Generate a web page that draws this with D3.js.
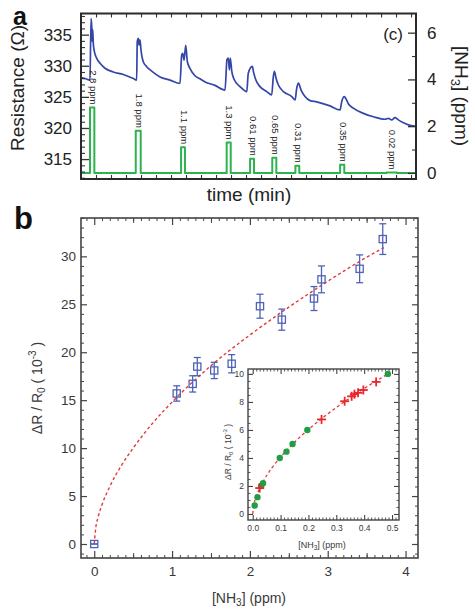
<!DOCTYPE html>
<html><head><meta charset="utf-8">
<script src="https://cdn.jsdelivr.net/npm/d3@7"></script>
<style>
body{margin:0;background:#fff}
svg{display:block}
text{font-family:"Liberation Sans",Arial,Helvetica,sans-serif}
</style>
</head><body>
<svg id="c" width="475" height="613"></svg>
<script>
// ---------- Panel a data ----------
const resTime  = [0,2.7,6.0,6.7,7.1,7.5,7.8,8.2,8.9,10.5,12.7,16.0,21.5,28.2,34.9,37.1,37.5,38.2,38.7,39.3,40.0,41.5,43.8,47.1,52.7,59.3,66.0,
  67.1,67.8,68.7,69.8,70.9,72.7,76.0,79.3,82.7,89.3,96.0,97.3,98.2,98.9,99.5,100.5,102.2,106.0,110.5,
  111.5,114.2,114.9,116.5,119.3,123.8,127.1,128.2,128.9,130.0,131.5,134.9,140.5,142.7,
  143.8,144.9,146.7,149.3,152.7,157.1,166.0,172.7,173.8,175.5,176.7,178.2,181.5,188.2,194.9,202.7,204.9,207.1,209.3,211.5,214.9,218.2,222.7];
const resValue = [328.1,327.95,327.7,337.6,336.6,333.9,335.8,333.6,332.3,331.2,330.4,329.6,329.0,328.6,327.95,327.7,333.9,334.4,333.3,334.15,332.5,330.65,329.85,329.15,328.2,327.7,327.15,
  331.7,332.0,330.9,333.3,330.65,329.55,328.4,327.9,327.4,326.85,326.1,331.0,331.25,329.35,331.25,329.1,327.75,326.65,325.85,
  328.8,329.9,329.1,327.75,326.65,325.85,325.3,328.25,329.1,328.0,326.95,325.85,325.05,324.5,
  326.4,327.2,326.1,325.05,324.4,324.2,323.55,322.9,324.25,325.05,324.65,323.9,323.2,322.35,321.8,321.4,321.55,321.3,321.65,321.3,320.85,320.5,320.3];
const pulseStart = [6.0,36.5,66.7,97.1,112.7,127.5,142.9,172.7,203.8];
const pulseEnd   = [8.9,39.8,69.3,99.8,115.3,130.2,145.5,175.5,210.5];
const pulseConc  = [2.8,1.8,1.1,1.3,0.61,0.65,0.31,0.35,0.02];
const pulseLabel = ["2.8 ppm","1.8 ppm","1.1 ppm","1.3 ppm","0.61 ppm","0.65 ppm","0.31 ppm","0.35 ppm","0.02 ppm"];
const resTicks = [315,320,325,330,335];
const ppmTicks = [0,2,4,6];

// ---------- Panel b data ----------
const concX  = [0,1.06,1.265,1.324,1.542,1.766,2.13,2.41,2.824,2.92,3.41,3.707];
const dRR0   = [0,15.7,16.7,18.5,18.1,18.8,24.8,23.4,25.6,27.6,28.7,31.8];
const dRR0Err= [0,0.8,0.85,0.95,0.85,0.95,1.25,1.1,1.25,1.4,1.45,1.6];
const fitX = [0,0.02,0.05,0.1,0.2,0.35,0.5,0.75,1.0,1.5,2.0,2.5,3.0,3.5,3.72];
const fitY = [0,1.7,2.8,4.1,6.0,8.2,10.0,12.6,14.8,18.6,21.8,24.7,27.4,29.9,30.9];
const bTicksX = [0,1,2,3,4];
const bTicksY = [0,5,10,15,20,25,30];

// ---------- Inset data ----------
const insetDotX = [0.007,0.017,0.03,0.037,0.097,0.121,0.143,0.196,0.485];
const insetDotY = [0.6,1.2,2.0,2.2,4.0,4.45,5.0,6.0,10.0];
const insetCrossX = [0.025,0.247,0.33,0.355,0.365,0.378,0.397,0.443];
const insetCrossY = [1.85,6.75,8.05,8.4,8.55,8.65,8.85,9.43];
const insetFitX = [0,0.005,0.01,0.02,0.04,0.07,0.1,0.15,0.2,0.25,0.3,0.35,0.4,0.45,0.49];
const insetFitY = [0,0.74,1.09,1.62,2.41,3.32,4.06,5.12,6.03,6.85,7.6,8.3,8.96,9.58,10.05];
const insetTicksX = [0,0.1,0.2,0.3,0.4,0.5];
const insetTicksY = [0,2,4,6,8,10];

// ---------- drawing ----------
const svg = d3.select("#c");
const axisCol = "#333";
const blue = "#3446a8", green = "#2db34e", sqBlue = "#4f62b6", red = "#e23a3a";

function styleAxis(a, sw, col, fs, tcol){
  a.select(".domain").remove();
  a.selectAll(".tick line").attr("stroke", col).attr("stroke-width", sw);
  a.selectAll(".tick text").attr("fill", tcol||"#222").style("font-size", fs+"px").attr("font-family","Liberation Sans, Arial, sans-serif");
  return a;
}
function put(axis, x, y){ return svg.append("g").attr("transform",`translate(${x},${y})`).call(axis); }

// ===== Panel a =====
const A = {l:81, r:416, t:13.5, b:179};
const xA = d3.scaleLinear().domain([0,223.3]).range([A.l, A.r]);
const yR = d3.scaleLinear().domain([311.8,338.4]).range([A.b, A.t]);
const yP = d3.scaleLinear().domain([-0.26,6.82]).range([A.b, A.t]);

svg.append("clipPath").attr("id","clipA").append("rect").attr("x",A.l).attr("y",A.t).attr("width",A.r-A.l).attr("height",A.b-A.t);

// green concentration steps
const stepPts = [[0,0]];
pulseStart.forEach((s,i)=>{ stepPts.push([s,0],[s,pulseConc[i]],[pulseEnd[i],pulseConc[i]],[pulseEnd[i],0]); });
stepPts.push([223.3,0]);
svg.append("path").attr("clip-path","url(#clipA)")
  .attr("d", d3.line().x(d=>xA(d[0])).y(d=>yP(d[1]))(stepPts))
  .attr("fill","none").attr("stroke",green).attr("stroke-width",2).attr("stroke-linejoin","round");

// resistance trace
svg.append("path").attr("clip-path","url(#clipA)")
  .attr("d", d3.line().x((d,i)=>xA(resTime[i])).y((d,i)=>yR(resValue[i])).curve(d3.curveMonotoneX)(resTime))
  .attr("fill","none").attr("stroke",blue).attr("stroke-width",1.7).attr("stroke-linejoin","round");

// pulse labels
pulseLabel.forEach((lab,i)=>{
  const cx = xA((pulseStart[i]+pulseEnd[i])/2)+1;
  const cy = yP(pulseConc[i]) - 3;
  svg.append("text").attr("transform",`translate(${cx},${cy}) rotate(90)`)
    .attr("text-anchor","end").attr("dy","0.35em").style("font-size","9.5px").attr("fill","#222").text(lab);
});

// axes panel a
styleAxis(put(d3.axisLeft(yR).tickValues(resTicks).tickSize(-8).tickSizeOuter(0).tickPadding(9), A.l, 0), 1.3, axisCol, 17);
styleAxis(put(d3.axisLeft(yR).tickValues(d3.range(312,339,1).filter(v=>v%5)).tickSize(-4).tickSizeOuter(0).tickFormat(""), A.l, 0), 1.1, axisCol, 1);
styleAxis(put(d3.axisRight(yP).tickValues(ppmTicks).tickSize(-8).tickSizeOuter(0).tickPadding(11), A.r, 0), 1.3, axisCol, 17);
styleAxis(put(d3.axisRight(yP).tickValues([1,3,5]).tickSize(-4).tickSizeOuter(0).tickFormat(""), A.r, 0), 1.1, axisCol, 1);
styleAxis(put(d3.axisBottom(xA).tickValues(d3.range(10,221,10)).tickSize(-4).tickSizeOuter(0).tickFormat(""), 0, A.b), 1.1, axisCol, 1);
styleAxis(put(d3.axisTop(xA).tickValues(d3.range(10,221,10)).tickSize(-4).tickSizeOuter(0).tickFormat(""), 0, A.t), 1.1, axisCol, 1);
svg.append("rect").attr("x",A.l).attr("y",A.t).attr("width",A.r-A.l).attr("height",A.b-A.t)
  .attr("fill","none").attr("stroke","#2a2a2a").attr("stroke-width",2);

svg.append("text").attr("x",403).attr("y",39.5).attr("text-anchor","end").style("font-size","17px").attr("fill","#222").text("(c)");
svg.append("text").attr("x",249).attr("y",201).attr("text-anchor","middle").style("font-size","19px").attr("fill","#222").text("time (min)");
svg.append("text").attr("transform","translate(24,88) rotate(-90)").attr("text-anchor","middle").style("font-size","19px").attr("fill","#222").text("Resistance (Ω)");
const nh = svg.append("text").attr("transform","translate(455,96) rotate(90)").attr("text-anchor","middle").style("font-size","19px").attr("fill","#222");
nh.append("tspan").text("[NH");
nh.append("tspan").attr("dy",4).style("font-size","13px").text("3");
nh.append("tspan").attr("dy",-4).text("] (ppm)");
svg.append("text").attr("x",13).attr("y",25).style("font-size","25px").style("font-weight","bold").attr("fill","#111").text("a");

// ===== Panel b =====
const B = {l:81, r:418, t:218, b:558};
const xB = d3.scaleLinear().domain([-0.17,4.16]).range([B.l,B.r]);
const yB = d3.scaleLinear().domain([-1.46,34]).range([B.b,B.t]);
const tcolB = "#3a3a3a";
const minorBX = d3.range(-1,42,1).map(v=>v/10).filter(v=>v>=-0.15&&Math.abs(v-Math.round(v))>1e-6);

styleAxis(put(d3.axisLeft(yB).tickValues(bTicksY).tickSize(-6).tickSizeOuter(0).tickPadding(5).tickFormat(d3.format("d")), B.l, 0), 1.2, "#444", 13.5, tcolB);
styleAxis(put(d3.axisLeft(yB).tickValues(d3.range(-1,35,1).filter(v=>v%5)).tickSize(-3).tickSizeOuter(0).tickFormat(""), B.l, 0), 1.0, "#444", 1);
styleAxis(put(d3.axisRight(yB).tickValues(bTicksY).tickSize(-6).tickSizeOuter(0).tickFormat(""), B.r, 0), 1.2, "#444", 1);
styleAxis(put(d3.axisRight(yB).tickValues(d3.range(-1,35,1).filter(v=>v%5)).tickSize(-3).tickSizeOuter(0).tickFormat(""), B.r, 0), 1.0, "#444", 1);
styleAxis(put(d3.axisBottom(xB).tickValues(bTicksX).tickSize(-7).tickSizeOuter(0).tickPadding(8).tickFormat(d3.format("d")), 0, B.b), 1.2, "#444", 13.5, tcolB);
styleAxis(put(d3.axisBottom(xB).tickValues(minorBX).tickSize(-3).tickSizeOuter(0).tickFormat(""), 0, B.b), 1.0, "#444", 1);
styleAxis(put(d3.axisBottom(xB).tickValues([0.5,1.5,2.5,3.5]).tickSize(-5).tickSizeOuter(0).tickFormat(""), 0, B.b), 1.0, "#444", 1);
styleAxis(put(d3.axisTop(xB).tickValues(bTicksX).tickSize(-7).tickSizeOuter(0).tickFormat(""), 0, B.t), 1.2, "#444", 1);
styleAxis(put(d3.axisTop(xB).tickValues(minorBX).tickSize(-3).tickSizeOuter(0).tickFormat(""), 0, B.t), 1.0, "#444", 1);
styleAxis(put(d3.axisTop(xB).tickValues([0.5,1.5,2.5,3.5]).tickSize(-5).tickSizeOuter(0).tickFormat(""), 0, B.t), 1.0, "#444", 1);

// fit line
svg.append("path").attr("d", d3.line().x((d,i)=>xB(fitX[i])).y((d,i)=>yB(fitY[i])).curve(d3.curveMonotoneX)(fitX))
  .attr("fill","none").attr("stroke",red).attr("stroke-width",1.4).attr("stroke-dasharray","3,2.6");

// error bars + squares
const gB = svg.append("g");
concX.forEach((x,i)=>{
  const cx = xB(x), y0 = yB(dRR0[i]-dRR0Err[i]), y1 = yB(dRR0[i]+dRR0Err[i]);
  gB.append("line").attr("x1",cx).attr("x2",cx).attr("y1",y0).attr("y2",y1).attr("stroke",sqBlue).attr("stroke-width",1.3);
  [y0,y1].forEach(yy=>gB.append("line").attr("x1",cx-3.5).attr("x2",cx+3.5).attr("y1",yy).attr("y2",yy).attr("stroke",sqBlue).attr("stroke-width",1.3));
  gB.append("rect").attr("x",cx-3.6).attr("y",yB(dRR0[i])-3.6).attr("width",7.2).attr("height",7.2)
    .attr("fill","none").attr("stroke",sqBlue).attr("stroke-width",1.3);
});

svg.append("rect").attr("x",B.l).attr("y",B.t).attr("width",B.r-B.l).attr("height",B.b-B.t)
  .attr("fill","none").attr("stroke","#444").attr("stroke-width",1.6);

const xt = svg.append("text").attr("x",249).attr("y",603).attr("text-anchor","middle").style("font-size","14px").attr("fill",tcolB);
xt.append("tspan").text("[NH");
xt.append("tspan").attr("dy",3).style("font-size","10px").text("3");
xt.append("tspan").attr("dy",-3).text("] (ppm)");
const yt = svg.append("text").attr("transform","translate(42,388) rotate(-90)").attr("text-anchor","middle").style("font-size","14px").attr("fill",tcolB);
yt.append("tspan").text("ΔR / R");
yt.append("tspan").attr("dy",3).style("font-size","10px").text("0");
yt.append("tspan").attr("dy",-3).text(" ( 10");
yt.append("tspan").attr("dy",-6).style("font-size","10px").text("-3");
yt.append("tspan").attr("dy",6).text(" )");
svg.append("text").attr("x",14).attr("y",229).style("font-size","31px").style("font-weight","bold").attr("fill","#111").text("b");

// ===== Inset =====
const I = {l:248, r:399, t:369, b:520};
const xI = d3.scaleLinear().domain([-0.017,0.525]).range([I.l,I.r]);
const yI = d3.scaleLinear().domain([-0.43,10.35]).range([I.b,I.t]);
svg.append("rect").attr("x",I.l).attr("y",I.t).attr("width",I.r-I.l).attr("height",I.b-I.t).attr("fill","#fff");
const minorIX = d3.range(0,43,1).map(v=>v*0.0125).filter(v=>v<0.52 && Math.abs(v*10-Math.round(v*10))>1e-6);
const minorIY = d3.range(0,21,1).map(v=>v*0.5).filter(v=>v%2);
styleAxis(put(d3.axisLeft(yI).tickValues(insetTicksY).tickSize(-5).tickSizeOuter(0).tickPadding(4).tickFormat(d3.format("d")), I.l, 0), 1.1, "#444", 8.5, tcolB);
styleAxis(put(d3.axisLeft(yI).tickValues(minorIY).tickSize(-2.5).tickSizeOuter(0).tickFormat(""), I.l, 0), 0.9, "#444", 1);
styleAxis(put(d3.axisRight(yI).tickValues(insetTicksY).tickSize(-5).tickSizeOuter(0).tickFormat(""), I.r, 0), 1.1, "#444", 1);
styleAxis(put(d3.axisRight(yI).tickValues(minorIY).tickSize(-2.5).tickSizeOuter(0).tickFormat(""), I.r, 0), 0.9, "#444", 1);
styleAxis(put(d3.axisBottom(xI).tickValues(insetTicksX).tickSize(-5).tickSizeOuter(0).tickPadding(5).tickFormat(d3.format(".1f")), 0, I.b), 1.1, "#444", 8.5, tcolB);
styleAxis(put(d3.axisBottom(xI).tickValues(minorIX).tickSize(-2.5).tickSizeOuter(0).tickFormat(""), 0, I.b), 0.9, "#444", 1);
styleAxis(put(d3.axisTop(xI).tickValues(insetTicksX).tickSize(-5).tickSizeOuter(0).tickFormat(""), 0, I.t), 1.1, "#444", 1);
styleAxis(put(d3.axisTop(xI).tickValues(minorIX).tickSize(-2.5).tickSizeOuter(0).tickFormat(""), 0, I.t), 0.9, "#444", 1);

svg.append("path").attr("d", d3.line().x((d,i)=>xI(insetFitX[i])).y((d,i)=>yI(insetFitY[i])).curve(d3.curveMonotoneX)(insetFitX))
  .attr("fill","none").attr("stroke",red).attr("stroke-width",1.3).attr("stroke-dasharray","3,2.6");
insetDotX.forEach((x,i)=>{
  svg.append("circle").attr("cx",xI(x)).attr("cy",yI(insetDotY[i])).attr("r",3.2).attr("fill","#1f9e45");
});
insetCrossX.forEach((x,i)=>{
  const cx = xI(x), cy = yI(insetCrossY[i]);
  svg.append("line").attr("x1",cx-4.5).attr("x2",cx+4.5).attr("y1",cy).attr("y2",cy).attr("stroke","#e8262c").attr("stroke-width",1.8);
  svg.append("line").attr("x1",cx).attr("x2",cx).attr("y1",cy-4.5).attr("y2",cy+4.5).attr("stroke","#e8262c").attr("stroke-width",1.8);
});
svg.append("rect").attr("x",I.l).attr("y",I.t).attr("width",I.r-I.l).attr("height",I.b-I.t)
  .attr("fill","none").attr("stroke","#444").attr("stroke-width",1.4);

const ixt = svg.append("text").attr("x",322).attr("y",548).attr("text-anchor","middle").style("font-size","9px").attr("fill",tcolB);
ixt.append("tspan").text("[NH");
ixt.append("tspan").attr("dy",2).style("font-size","6.5px").text("3");
ixt.append("tspan").attr("dy",-2).text("] (ppm)");
const iyt = svg.append("text").attr("transform","translate(231,452) rotate(-90)").attr("text-anchor","middle").style("font-size","8.5px").attr("fill",tcolB);
iyt.append("tspan").text("ΔR / R");
iyt.append("tspan").attr("dy",2).style("font-size","6px").text("0");
iyt.append("tspan").attr("dy",-2).text(" ( 10");
iyt.append("tspan").attr("dy",-4).style("font-size","6px").text("-3");
iyt.append("tspan").attr("dy",4).text(" )");
</script>
</body></html>
